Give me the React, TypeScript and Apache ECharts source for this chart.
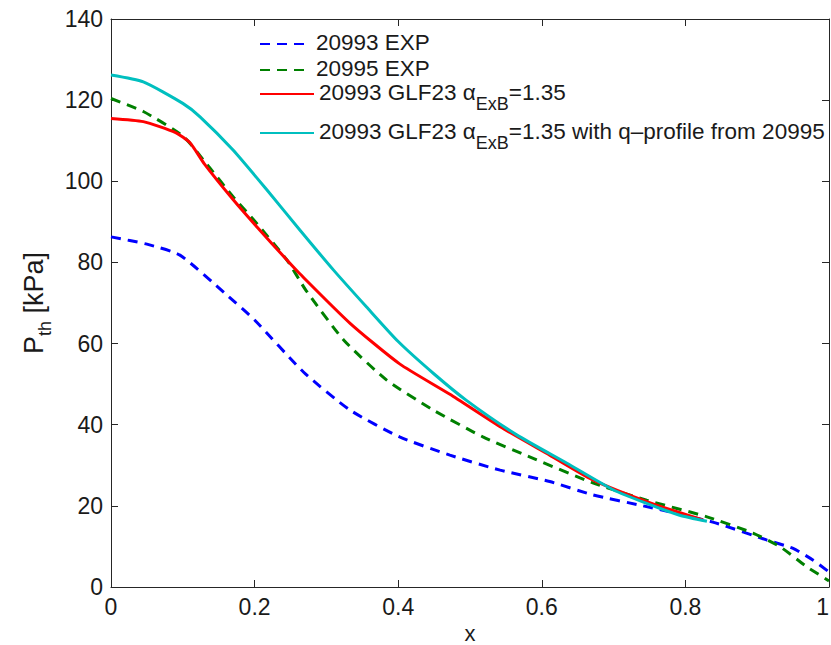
import React, { useEffect, useRef } from "react";
import * as echarts from "echarts";

// 20993 EXP
const blueX = [0, 0.05, 0.096, 0.161, 0.2, 0.268, 0.333, 0.402, 0.472, 0.542, 0.611, 0.671, 0.741, 0.838, 0.913, 0.95, 0.978, 1.0];
const blueY = [86.3, 84.5, 81.8, 72, 65.8, 53, 43.6, 37, 32.5, 28.8, 26, 22.7, 20, 16, 11.6, 9.5, 6.6, 3.7];
// 20995 EXP
const greenX = [0, 0.045, 0.101, 0.138, 0.17, 0.203, 0.245, 0.272, 0.324, 0.384, 0.449, 0.518, 0.588, 0.672, 0.746, 0.83, 0.894, 0.932, 0.969, 1.0];
const greenY = [120.4, 117.2, 111, 103.2, 96.2, 89.6, 80.6, 73, 60.9, 51, 43.6, 37, 31.7, 25.6, 21.4, 17.3, 13.3, 9.9, 5, 1.5];
// 20993 GLF23 alpha_ExB = 1.35
const redX = [0, 0.045, 0.09, 0.11, 0.13, 0.17, 0.203, 0.245, 0.263, 0.333, 0.402, 0.472, 0.542, 0.611, 0.671, 0.75, 0.825];
const redY = [115.5, 114.7, 112, 109.5, 104.3, 95.5, 88.8, 80.6, 77.2, 65, 55, 47.5, 39.5, 32.5, 26.4, 20.8, 16.5];
// 20993 GLF23 alpha_ExB = 1.35 with q-profile from 20995
const cyanX = [0, 0.045, 0.1, 0.124, 0.17, 0.217, 0.263, 0.31, 0.356, 0.4, 0.45, 0.495, 0.565, 0.635, 0.7, 0.746, 0.792, 0.83];
const cyanY = [126.2, 124.5, 119.2, 115.9, 107.7, 97.9, 88, 78.1, 69, 60.5, 52.5, 46, 37.5, 30.5, 23.9, 20.6, 17.7, 16.2];

const seriesNames = [
  "20993 EXP",
  "20995 EXP",
  "20993 GLF23 aExB=1.35",
  "20993 GLF23 aExB=1.35 with q–profile from 20995",
];

const xTicks = [0, 0.2, 0.4, 0.6, 0.8, 1];
const yTicks = [0, 20, 40, 60, 80, 100, 120, 140];

const FONT = "Liberation Sans, Arial, Helvetica, sans-serif";
const AX = "#262626";
const TXT = "#1a1a1a";

const zip = (xs: number[], ys: number[]) => xs.map((x, i) => [x, ys[i]]);

export default function App() {
  const ref = useRef<HTMLDivElement>(null);
  useEffect(() => {
    if (!ref.current) return;
    const chart = echarts.init(ref.current, undefined, { renderer: "svg", width: 831, height: 645 });
    const legendRich = {
      m: { fontSize: 22.5, fontFamily: FONT, color: TXT, verticalAlign: "top", lineHeight: 26 },
      g: { fontSize: 22.5, fontFamily: FONT, color: TXT, verticalAlign: "top", lineHeight: 26 },
      s: { fontSize: 18, fontFamily: FONT, color: TXT, verticalAlign: "top", lineHeight: 18, padding: [14, 0, 10, 0] },
    };
    const legendFormatter = (name: string) => {
      if (name.indexOf("aExB") >= 0) {
        const parts = name.split("aExB");
        return `{m|${parts[0]}}{g|α}{s|ExB}{m|${parts[1]}}`;
      }
      return `{m|${name}}`;
    };
    const mkLegend = (idx: number, top: number, w: number) => ({
      data: [seriesNames[idx]],
      left: 259,
      top,
      orient: "vertical",
      itemWidth: w,
      itemHeight: 14,
      itemGap: 0,
      padding: 0,
      formatter: legendFormatter,
      textStyle: { rich: legendRich, fontSize: 22.5, fontFamily: FONT, color: TXT },
      itemStyle: { opacity: 0 },
    });
    const mkSeries = (i: number, xs: number[], ys: number[], color: string, dashed: boolean) => ({
      name: seriesNames[i],
      type: "line",
      data: zip(xs, ys),
      showSymbol: false,
      symbol: "none",
      smooth: 0.2,
      z: 2 + i,
      lineStyle: { color, width: 3, type: dashed ? [10, 7] : "solid" },
      itemStyle: { color },
    });
    const axisCommon = {
      axisLine: { show: true, onZero: false, lineStyle: { color: AX, width: 1 } },
      axisTick: { show: true, inside: true, length: 7, lineStyle: { color: AX } },
      splitLine: { show: false },
    };
    chart.setOption({
      animation: false,
      backgroundColor: "#ffffff",
      grid: { left: 111, right: 2, top: 19, bottom: 58, containLabel: false, outerBoundsMode: "none" },
      legend: [
        mkLegend(0, 31, 51),
        mkLegend(1, 57, 51),
        mkLegend(2, 81, 54),
        mkLegend(3, 120, 54),
      ],
      xAxis: [
        {
          type: "value",
          min: 0,
          max: 1,
          interval: 0.2,
          position: "bottom",
          ...axisCommon,
          axisLabel: {
            show: true,
            margin: 8,
            fontSize: 23,
            fontFamily: FONT,
            color: TXT,
            alignMaxLabel: "right",
            formatter: (v: number) => {
              const r = Math.round(v * 10) / 10;
              return xTicks.indexOf(r) >= 0 ? String(r) : "";
            },
          },
          name: "x",
          nameLocation: "middle",
          nameGap: 29,
          nameTextStyle: { fontSize: 22, fontFamily: FONT, color: TXT, lineHeight: 22 },
        },
        {
          type: "value",
          min: 0,
          max: 1,
          interval: 0.2,
          position: "top",
          ...axisCommon,
          axisLabel: { show: false },
        },
      ],
      yAxis: [
        {
          type: "value",
          min: 0,
          max: 140,
          interval: 20,
          position: "left",
          ...axisCommon,
          axisLabel: {
            show: true,
            margin: 8,
            fontSize: 23,
            fontFamily: FONT,
            color: TXT,
            formatter: (v: number) => (yTicks.indexOf(v) >= 0 ? String(v) : ""),
          },
          name: "{m|P}{s|th}{m| [kPa]}",
          nameLocation: "middle",
          nameGap: 59,
          nameTextStyle: {
            fontSize: 27,
            fontFamily: FONT,
            color: TXT,
            rich: {
              m: { fontSize: 27, fontFamily: FONT, color: TXT, verticalAlign: "top", lineHeight: 28 },
              s: { fontSize: 18, fontFamily: FONT, color: TXT, verticalAlign: "top", lineHeight: 18, padding: [15, 0, 0, 0] },
            },
          },
        },
        {
          type: "value",
          min: 0,
          max: 140,
          interval: 20,
          position: "right",
          ...axisCommon,
          axisLabel: { show: false },
        },
      ],
      series: [
        mkSeries(0, blueX, blueY, "#0000ff", true),
        mkSeries(1, greenX, greenY, "#008000", true),
        mkSeries(2, redX, redY, "#ff0000", false),
        mkSeries(3, cyanX, cyanY, "#00bfbf", false),
      ],
    });
    return () => chart.dispose();
  }, []);
  return (
    <div
      ref={ref}
      style={{ position: "fixed", left: 0, top: 0, width: 831, height: 645, background: "#fff" }}
    />
  );
}
